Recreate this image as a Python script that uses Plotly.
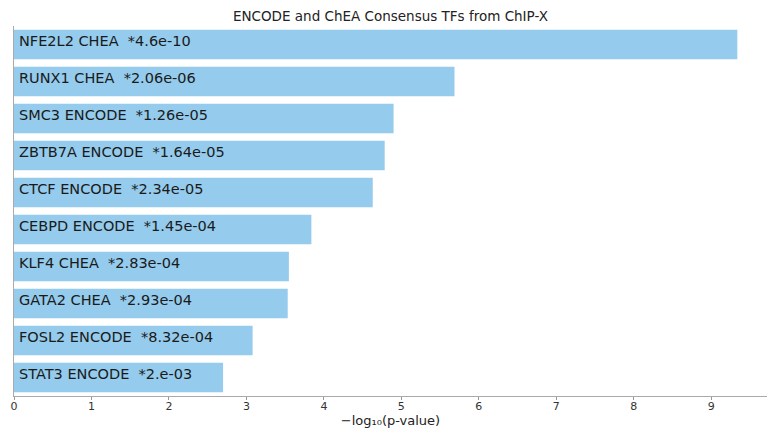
import numpy as np
import plotly.graph_objects as go

# Enrichment results: transcription factor, library and p-value
tfs = ["NFE2L2", "RUNX1", "SMC3", "ZBTB7A", "CTCF", "CEBPD", "KLF4", "GATA2", "FOSL2", "STAT3"]
libraries = ["CHEA", "CHEA", "ENCODE", "ENCODE", "ENCODE", "ENCODE", "CHEA", "CHEA", "ENCODE", "ENCODE"]
p_values = [4.6e-10, 2.06e-06, 1.26e-05, 1.64e-05, 2.34e-05, 1.45e-04, 2.83e-04, 2.93e-04, 8.32e-04, 2.0e-03]
p_labels = ["4.6e-10", "2.06e-06", "1.26e-05", "1.64e-05", "2.34e-05", "1.45e-04", "2.83e-04", "2.93e-04", "8.32e-04", "2.e-03"]

scores = [-np.log10(p) for p in p_values]
names = [f"{tf} {lib}" for tf, lib in zip(tfs, libraries)]
# non-breaking space keeps the double gap before the p-value
texts = [f"{n}\u00a0 *{pl}" for n, pl in zip(names, p_labels)]

FONT = "DejaVu Sans"
BAR_COLOR = "#95cbec"

fig = go.Figure()
fig.add_trace(go.Bar(
    x=scores,
    y=names,
    orientation="h",
    width=0.8,
    marker=dict(color=BAR_COLOR, line=dict(width=0)),
    hoverinfo="x+y",
))

# Term labels written inside each bar, anchored at the axis origin
for name, label in zip(names, texts):
    fig.add_annotation(
        x=0, y=name, xref="x", yref="y",
        text=label, showarrow=False,
        xanchor="left", yanchor="middle", xshift=3, yshift=4,
        font=dict(family=FONT, size=14.5, color="#1a1a1a"),
    )

fig.update_layout(
    width=767, height=428,
    margin=dict(l=14, r=0, t=26, b=32),
    paper_bgcolor="white",
    plot_bgcolor="white",
    showlegend=False,
    bargap=0.2,
    title=dict(
        text="ENCODE and ChEA Consensus TFs from ChIP-X",
        x=0.509, xanchor="center", y=0.962, yanchor="middle",
        font=dict(family=FONT, size=13.5, color="#222"),
    ),
    font=dict(family=FONT, color="#222"),
)

fig.update_xaxes(
    range=[0, 9.72],
    tickmode="array",
    tickvals=list(range(0, 10)),
    ticks="outside", ticklen=3, tickcolor="#999",
    ticklabelstandoff=-3,
    tickfont=dict(family=FONT, size=11, color="#333"),
    showline=True, linecolor="#aaa", linewidth=1,
    showgrid=False, zeroline=False,
    title=dict(text="\u2212log\u2081\u2080(p-value)", standoff=2,
               font=dict(family=FONT, size=13, color="#222")),
)
fig.update_yaxes(
    autorange="reversed",
    range=[9.5, -0.5],
    showticklabels=False,
    ticks="",
    showline=True, linecolor="#aaa", linewidth=1,
    showgrid=False, zeroline=False,
)

fig.write_html("out.html")
